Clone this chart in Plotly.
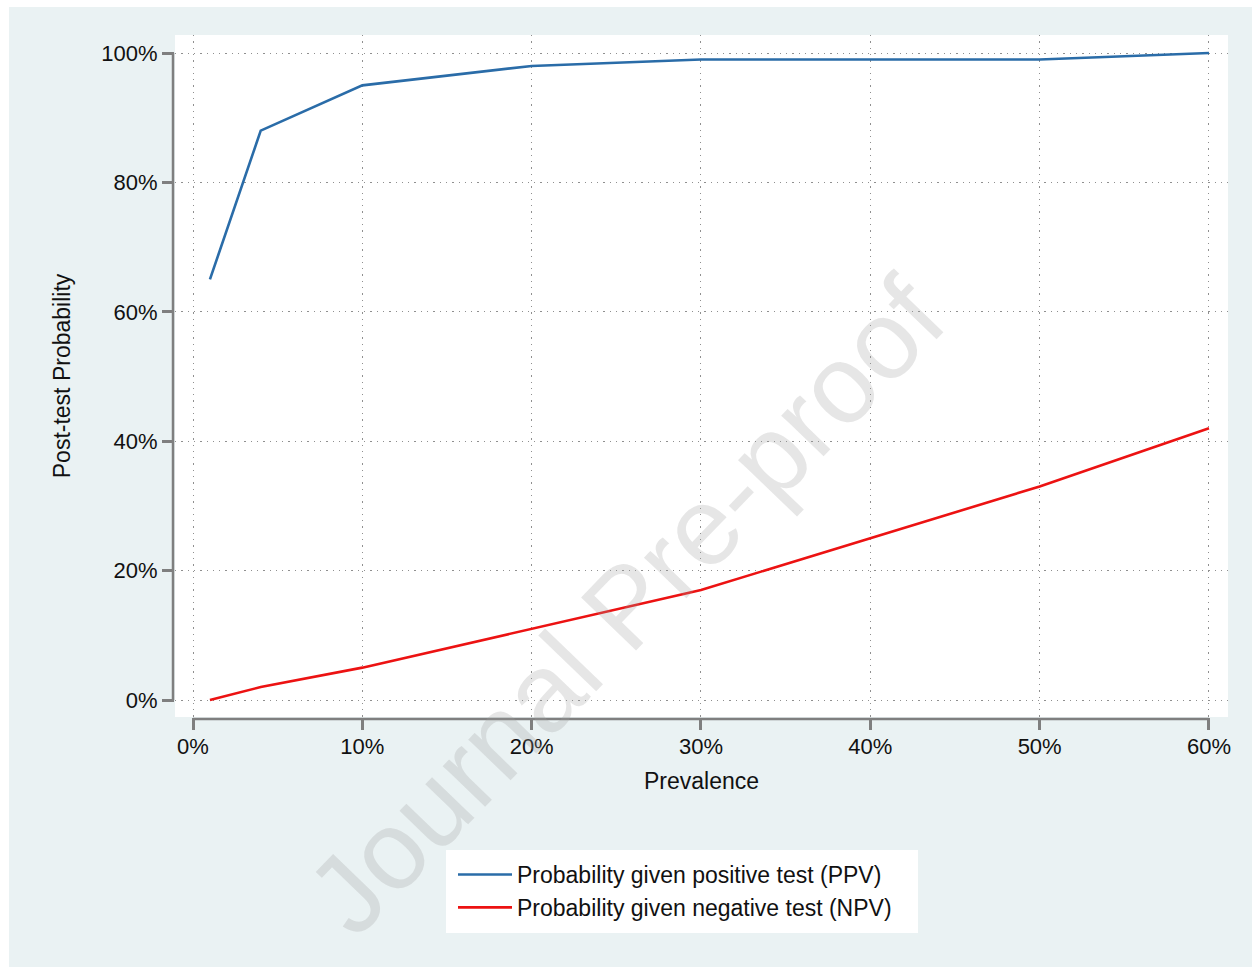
import plotly.graph_objects as go

# ---- data (percent) ----
prevalence = [1, 4, 10, 20, 30, 40, 50, 60]
ppv = [65, 88, 95, 98, 99, 99, 99, 100]
npv = [0, 2, 5, 11, 17, 25, 33, 42]
x_ticks = [0, 10, 20, 30, 40, 50, 60]
y_ticks = [0, 20, 40, 60, 80, 100]
series_names = ["Probability given positive test (PPV)",
                "Probability given negative test (NPV)"]

W, H = 1252, 971
ML, MR, MT, MB = 175, 24, 35, 254
PW, PH = W - ML - MR, H - MT - MB

def px_to_paper_x(px):
    return (px - ML) / PW

def px_to_paper_y(py):
    return (H - MB - py) / PH

FONT = "Liberation Sans, Arial, Helvetica, sans-serif"
BLUE = "#2a6ca8"
RED = "#ec1212"
BG = "#EAF2F3"
AXC = "#7f7f7f"
GRID = "#8f8f8f"

fig = go.Figure()
fig.add_trace(go.Scatter(x=prevalence, y=ppv, mode="lines", name=series_names[0],
                         line=dict(color=BLUE, width=2.6)))
fig.add_trace(go.Scatter(x=prevalence, y=npv, mode="lines", name=series_names[1],
                         line=dict(color=RED, width=2.6)))

shapes = [
    dict(type="rect", xref="paper", yref="paper", layer="below",
         x0=px_to_paper_x(9), x1=px_to_paper_x(1260),
         y0=px_to_paper_y(967), y1=px_to_paper_y(7),
         fillcolor=BG, line=dict(width=0)),
    dict(type="rect", xref="paper", yref="paper", layer="below",
         x0=0, x1=1, y0=0, y1=1, fillcolor="white", line=dict(width=0)),
    # legend box
    dict(type="rect", xref="paper", yref="paper", layer="below",
         x0=px_to_paper_x(446), x1=px_to_paper_x(918),
         y0=px_to_paper_y(933), y1=px_to_paper_y(850),
         fillcolor="white", line=dict(width=0)),
    dict(type="line", xref="x", yref="paper", x0=x_ticks[0], x1=x_ticks[-1],
         y0=px_to_paper_y(719), y1=px_to_paper_y(719),
         line=dict(color=AXC, width=2.5)),
    dict(type="line", xref="paper", yref="y", y0=y_ticks[0], y1=y_ticks[-1],
         x0=px_to_paper_x(173), x1=px_to_paper_x(173),
         line=dict(color=AXC, width=2.5)),
]

fig.update_layout(
    width=W, height=H,
    margin=dict(l=ML, r=MR, t=MT, b=MB, pad=0),
    paper_bgcolor="white", plot_bgcolor="white",
    font=dict(family=FONT, color="#111111", size=22),
    shapes=shapes,
    showlegend=True,
    legend=dict(x=px_to_paper_x(453), xanchor="left", y=px_to_paper_y(853), yanchor="top",
                bgcolor="rgba(0,0,0,0)", borderwidth=0, font=dict(size=23, color="#111111"),
                itemwidth=54, tracegroupgap=4),
    annotations=[dict(text="Journal Pre-proof", xref="paper", yref="paper",
                      x=px_to_paper_x(626), y=px_to_paper_y(606),
                      xanchor="center", yanchor="middle", showarrow=False,
                      textangle=-46,
                      font=dict(family=FONT, size=111, color="rgba(160,160,160,0.26)"))],
)

fig.update_xaxes(
    range=[(175 - 193) / 16.933, (1228 - 193) / 16.933],
    tickvals=x_ticks, ticktext=[f"{v}%" for v in x_ticks],
    ticks="outside", ticklen=12, tickwidth=2.5, tickcolor=AXC,
    showline=False, zeroline=False,
    showgrid=True, gridcolor=GRID, gridwidth=1.3, griddash="1.3px,5px",
    tickfont=dict(size=22), ticklabelstandoff=-2,
    title=dict(text="Prevalence", font=dict(size=23), standoff=14),
)
fig.update_yaxes(
    range=[-(717 - 700) / 6.47, 100 + (53 - 35) / 6.47],
    tickvals=y_ticks, ticktext=[f"{v}%" for v in y_ticks],
    ticks="outside", ticklen=12, tickwidth=2.5, tickcolor=AXC,
    showline=False, zeroline=False,
    showgrid=True, gridcolor=GRID, gridwidth=1.3, griddash="1.3px,5px",
    tickfont=dict(size=22),
    title=dict(text="Post-test Probability", font=dict(size=23), standoff=24),
)

fig.write_html("out.html")
